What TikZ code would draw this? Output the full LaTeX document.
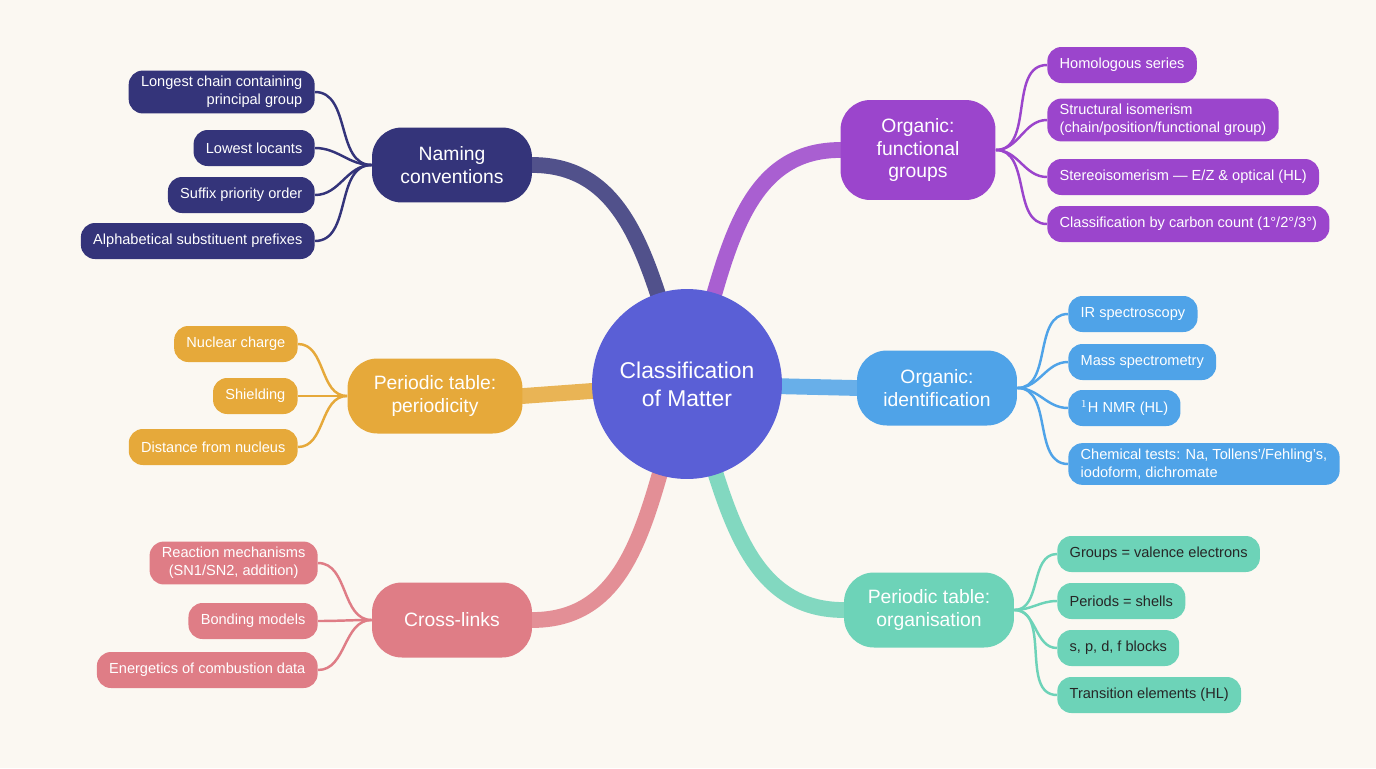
\documentclass[tikz,border=0pt]{standalone}
\usepackage{fontspec}
\setmainfont{Liberation Sans}
\usetikzlibrary{positioning}
\definecolor{navy}{HTML}{34347A}
\definecolor{purp}{HTML}{9B45CC}
\definecolor{oran}{HTML}{E6A93A}
\definecolor{blu}{HTML}{4FA3E8}
\definecolor{pink}{HTML}{DF7D86}
\definecolor{teal}{HTML}{6DD3B8}
\definecolor{core}{HTML}{5A5FD6}
\definecolor{bg}{HTML}{FBF8F2}
\tikzset{
  branch/.style={draw=none, rectangle, rounded corners=17pt, fill=#1, text=white, align=center,
    font=\fontsize{11}{13}\selectfont, minimum height=1.5cm, inner xsep=8pt},
  leaf/.style={draw=none, rectangle, rounded corners=8pt, fill=#1, text=white, align=left,
    font=\fontsize{8.3}{10}\selectfont, minimum height=0.72cm, inner xsep=7pt},
  stem/.style={line width=9pt, #1, opacity=0.85, line cap=round},
  twig/.style={line width=1.4pt, #1}
}
\begin{document}
\begin{tikzpicture}[x=0.02cm, y=-0.02cm]
\fill[bg] (0,0) rectangle (1376,768);
\useasboundingbox (0,0) rectangle (1376,768);
% branches
\node[branch=navy, minimum width=3.2cm] (NAM) at (452,165) {Naming\\conventions};
\node[branch=purp, minimum width=3.1cm, minimum height=2cm] (FUN) at (918,150) {Organic:\\functional\\groups};
\node[branch=oran, minimum width=3.5cm] (PER) at (435,396) {Periodic table:\\periodicity};
\node[branch=blu, minimum width=3.2cm] (IDE) at (937,388) {Organic:\\identification};
\node[branch=pink, minimum width=3.2cm] (CRO) at (452,620) {Cross-links};
\node[branch=teal, minimum width=3.4cm] (ORG) at (929,610) {Periodic table:\\organisation};
% stems
\draw[stem=navy] (687,384) to[out=110,in=0] (NAM.east);
\draw[stem=purp] (687,384) to[out=70,in=180] (FUN.west);
\draw[stem=oran] (687,384) -- (PER.east);
\draw[stem=blu] (687,384) -- (IDE.west);
\draw[stem=pink] (687,384) to[out=250,in=0] (CRO.east);
\draw[stem=teal] (687,384) to[out=290,in=180] (ORG.west);
% center
\node[circle, fill=core, text=white, minimum size=3.8cm, align=center,
  font=\fontsize{13}{16}\selectfont] (CEN) at (687,384) {Classification\\of Matter};
% naming leaves
\node[leaf=navy, anchor=east, align=right] (N1) at (315,92) {Longest chain containing\\principal group};
\node[leaf=navy, anchor=east] (N2) at (315,148) {Lowest locants};
\node[leaf=navy, anchor=east] (N3) at (315,195) {Suffix priority order};
\node[leaf=navy, anchor=east] (N4) at (315,241) {Alphabetical substituent prefixes};
\foreach \l in {N1,N2,N3,N4} \draw[twig=navy] (NAM.west) to[out=180,in=0] (\l.east);
% functional leaves
\node[leaf=purp, anchor=west] (F1) at (1047,65) {Homologous series};
\node[leaf=purp, anchor=west] (F2) at (1047,120) {Structural isomerism\\(chain/position/functional group)};
\node[leaf=purp, anchor=west] (F3) at (1047,177) {Stereoisomerism — E/Z \& optical (HL)};
\node[leaf=purp, anchor=west] (F4) at (1047,224) {Classification by carbon count (1°/2°/3°)};
\foreach \l in {F1,F2,F3,F4} \draw[twig=purp] (FUN.east) to[out=0,in=180] (\l.west);
% periodicity leaves
\node[leaf=oran, anchor=east] (P1) at (298,344) {Nuclear charge};
\node[leaf=oran, anchor=east] (P2) at (298,396) {Shielding};
\node[leaf=oran, anchor=east] (P3) at (298,447) {Distance from nucleus};
\foreach \l in {P1,P2,P3} \draw[twig=oran] (PER.west) to[out=180,in=0] (\l.east);
% identification leaves
\node[leaf=blu, anchor=west] (I1) at (1068,314) {IR spectroscopy};
\node[leaf=blu, anchor=west] (I2) at (1068,362) {Mass spectrometry};
\node[leaf=blu, anchor=west] (I3) at (1068,408) {$^1$H NMR (HL)};
\node[leaf=blu, anchor=west] (I4) at (1068,464) {Chemical tests: Na, Tollens'/Fehling's,\\iodoform, dichromate};
\foreach \l in {I1,I2,I3,I4} \draw[twig=blu] (IDE.east) to[out=0,in=180] (\l.west);
% cross-link leaves
\node[leaf=pink, anchor=east, align=center] (C1) at (318,563) {Reaction mechanisms\\(SN1/SN2, addition)};
\node[leaf=pink, anchor=east] (C2) at (318,621) {Bonding models};
\node[leaf=pink, anchor=east] (C3) at (318,670) {Energetics of combustion data};
\foreach \l in {C1,C2,C3} \draw[twig=pink] (CRO.west) to[out=180,in=0] (\l.east);
% organisation leaves
\node[leaf=teal, text=black!85, anchor=west] (O1) at (1057,554) {Groups = valence electrons};
\node[leaf=teal, text=black!85, anchor=west] (O2) at (1057,601) {Periods = shells};
\node[leaf=teal, text=black!85, anchor=west] (O3) at (1057,648) {s, p, d, f blocks};
\node[leaf=teal, text=black!85, anchor=west] (O4) at (1057,695) {Transition elements (HL)};
\foreach \l in {O1,O2,O3,O4} \draw[twig=teal] (ORG.east) to[out=0,in=180] (\l.west);
\end{tikzpicture}
\end{document}
